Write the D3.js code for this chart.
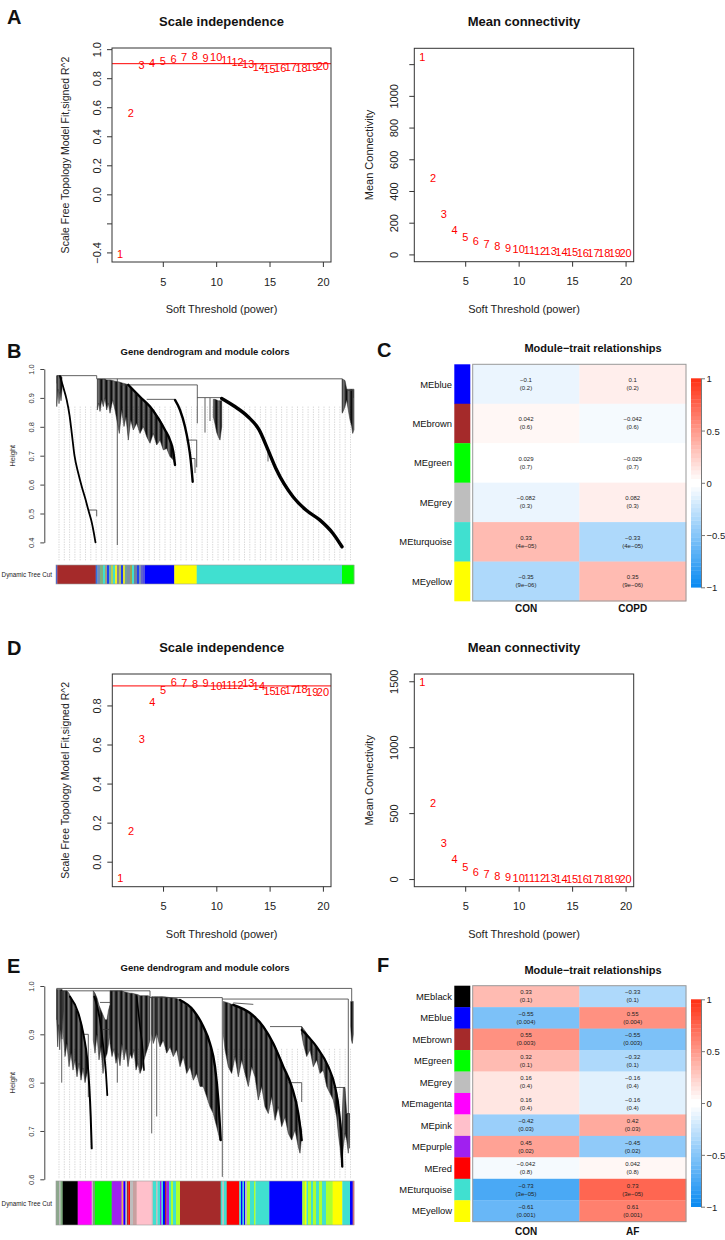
<!DOCTYPE html>
<html><head><meta charset="utf-8">
<script src="https://cdn.jsdelivr.net/npm/d3@7/dist/d3.min.js"></script>
<style>body{margin:0;background:#fff}svg{display:block}text{font-family:"Liberation Sans",Arial,Helvetica,sans-serif}</style>
</head><body>
<svg id="fig" width="725" height="1240"></svg>
<script>
// ---------------- DATA ----------------
const powers = [1,2,3,4,5,6,7,8,9,10,11,12,13,14,15,16,17,18,19,20];
const xTicks = [5,10,15,20];
// Panel A
const aFit  = [-0.41,0.56,0.89,0.903,0.919,0.935,0.947,0.952,0.942,0.945,0.926,0.915,0.897,0.876,0.866,0.871,0.88,0.873,0.878,0.883];
const aConn = [1248,480,253,155,107,82,63,50,40,32,27,23,19,16,14,12,11,9,8,7];
const aFitTicks  = [1.0,0.8,0.6,0.4,0.2,0.0,-0.2,-0.4];
const aFitShown  = ["1.0","0.8","0.6","0.4","0.2","0.0","","−0.4"];
const aConnTicks = [0,200,400,600,800,1000,1200];
const aConnShown = ["0","200","400","600","800","1000",""];
// Panel D
const dFit  = [-0.085,0.159,0.626,0.818,0.878,0.921,0.916,0.912,0.914,0.899,0.905,0.905,0.914,0.899,0.873,0.875,0.877,0.883,0.867,0.870];
const dConn = [1492,579,275,149,93,55,38,25,17,10,7,6,5,4,3,3,2,2,2,1];
const dFitTicks  = [0.0,0.2,0.4,0.6,0.8];
const dFitShown  = ["0.0","0.2","0.4","0.6","0.8"];
const dConnTicks = [0,500,1000,1500];
const dConnShown = ["0","500","1000","1500"];
const r2Cut = 0.9;

// Panel C heatmap
const cModules = ["MEblue","MEbrown","MEgreen","MEgrey","MEturquoise","MEyellow"];
const cColors  = ["#0000FF","#A52A2A","#00FF00","#BEBEBE","#40E0D0","#FFFF00"];
const cTraits  = ["CON","COPD"];
const cCon     = [-0.1,0.042,0.029,-0.082,0.33,-0.35];
const cCopd    = [0.1,-0.042,-0.029,0.082,-0.33,0.35];
const cPCon    = ["0.2","0.6","0.7","0.3","4e−05","9e−06"];
const cPCopd   = ["0.2","0.6","0.7","0.3","4e−05","9e−06"];
// Panel F heatmap
const fModules = ["MEblack","MEblue","MEbrown","MEgreen","MEgrey","MEmagenta","MEpink","MEpurple","MEred","MEturquoise","MEyellow"];
const fColors  = ["#000000","#0000FF","#A52A2A","#00FF00","#BEBEBE","#FF00FF","#FFC0CB","#A020F0","#FF0000","#40E0D0","#FFFF00"];
const fTraits  = ["CON","AF"];
const fCon     = [0.33,-0.55,0.55,0.32,0.16,0.16,-0.42,0.45,-0.042,-0.73,-0.61];
const fAf      = [-0.33,0.55,-0.55,-0.32,-0.16,-0.16,0.42,-0.45,0.042,0.73,0.61];
const fPCon    = ["0.1","0.004","0.003","0.1","0.4","0.4","0.03","0.02","0.8","3e−05","0.001"];
const fPAf     = ["0.1","0.004","0.003","0.1","0.4","0.4","0.03","0.02","0.8","3e−05","0.001"];
const legendTicks = [1,0.5,0,-0.5,-1];

// Panel B dendrogram (leaf position 0..298, height)
const bSegs = [
 [1,0.977,40.7,0.977],[1,0.977,1,0.95],[40.7,0.977,40.7,0.966],[40.7,0.966,286.3,0.966],
 [61.3,0.966,61.3,0.391],[64,0.945,141.3,0.945],[90.7,0.895,119,0.895],
 [141.3,0.945,141.3,0.812],[141.3,0.901,165.7,0.901],[149,0.90,149,0.78],[154,0.90,154,0.82],
 [130.7,0.754,140.7,0.754],[140.7,0.754,140.7,0.66],[134,0.69,139,0.69],[139,0.69,139,0.64],
 [32.3,0.512,40.7,0.512],[40.7,0.512,40.7,0.49],[286.3,0.966,286.3,0.85],
 [290.7,0.926,297.3,0.926],[297.3,0.926,297.3,0.90],[212,0.72,212,0.68]
];
const bMasses = [
 [[0.7,0.977,0.87],[2,0.977,0.93],[3,0.977,0.88],[4,0.977,0.92],[5,0.977,0.89],[6,0.97,0.93]],
 [[41.3,0.965,0.858],[42.7,0.965,0.882],[44,0.965,0.853],[45.7,0.965,0.893],[47.3,0.965,0.870],[49,0.965,0.90],
  [50.7,0.962,0.858],[52.3,0.962,0.882],[54,0.962,0.847],[56.7,0.960,0.893],[59,0.958,0.858],[63.3,0.955,0.777],
  [65.7,0.952,0.858],[68,0.950,0.801],[70,0.948,0.835],[72.3,0.945,0.754],[74.7,0.935,0.824],[77.3,0.925,0.789],
  [80.7,0.912,0.812],[84,0.904,0.777],[87.3,0.89,0.801],[90.7,0.88,0.766],[94,0.87,0.743],[97.3,0.86,0.777],
  [100.7,0.84,0.737],[104,0.825,0.754],[107.3,0.80,0.72],[110.7,0.78,0.725],[114,0.754,0.697],[117.3,0.714,0.685],[119,0.668,0.668]],
 [[157.3,0.895,0.835],[159,0.895,0.81],[160.7,0.893,0.78],[162.3,0.89,0.766],[164,0.89,0.754],[165.7,0.89,0.80]],
 [[286.3,0.965,0.847],[287.7,0.963,0.858],[289,0.96,0.87],[290.7,0.93,0.893],[292.3,0.93,0.858],[294,0.93,0.824],
  [295.7,0.93,0.801],[296.7,0.93,0.777],[298,0.93,0.79]]
];
const bCurves = [
 [[4,0.975],[7,0.94],[10.7,0.893],[13.5,0.84],[15.7,0.78],[18.5,0.70],[22.3,0.639],[26,0.59],[29,0.555],[32.5,0.51],[35.7,0.47],[38,0.43],[39.5,0.40]],
 [[72.3,0.945],[84,0.904],[94,0.870],[102.3,0.829],[109,0.789],[114,0.754],[117.3,0.714],[119,0.668]],
 [[119,0.893],[124,0.858],[129,0.80],[132.3,0.743],[134.7,0.685],[136.7,0.61]],
 [[165.7,0.898],[178,0.872],[192,0.835],[203,0.79],[212,0.72],[220,0.655],[228,0.603],[237,0.558],[250,0.512],[264,0.477],[277,0.431],[286,0.385]]
];
const bColorSegs = [
 [0,1.3,"#3355DD"],[1.3,39.7,"#A52A2A"],[39.7,41.5,"#3070E0"],[41.5,44,"#7090B0"],[44,47,"#80B080"],
 [47,49,"#40E0D0"],[49,51,"#A0A080"],[51,53,"#2040F0"],[53,55,"#70B0B0"],[55,57,"#B8D050"],[57,59,"#40E0D0"],
 [59,61,"#F0F020"],[61,63,"#8080A0"],[63,65,"#B0C060"],[65,67,"#2040F0"],[67,69,"#E0E030"],[69,71,"#70A0A0"],
 [71,74,"#8090A0"],[74,76,"#A0A050"],[76,78,"#40E0D0"],[78,81,"#7080A0"],[81,83,"#2040F0"],[83,85,"#8090B0"],
 [85,87,"#6060D0"],[87,89,"#5050E0"],[89,118.3,"#0000FF"],[118.3,140.7,"#FFFF00"],[140.7,286,"#40E0D0"],[286,298,"#00FF00"]
];

// Panel E dendrogram
const eSegs = [
 [0.7,0.995,295.7,0.995],[0.7,0.995,0.7,0.93],[295.7,0.995,295.7,0.968],[7.3,0.99,94,0.99],[94,0.99,94,0.976],
 [94,0.976,166.3,0.976],[166.3,0.973,292.3,0.973],[166.3,0.976,166.3,0.605],[100.7,0.976,100.7,0.73],
 [95.7,0.976,95.7,0.695],[61.3,0.99,61.3,0.80],[214,0.916,245.7,0.916],[245.7,0.916,245.7,0.90],
 [230.7,0.80,245.7,0.80],[245.7,0.80,245.7,0.76],[292.3,0.973,292.3,0.736],[277.3,0.79,289,0.79],
 [289,0.736,293.5,0.736],[293.5,0.736,293.5,0.664],[27.3,0.90,32.3,0.90],[32.3,0.90,32.3,0.77],
 [44,0.966,54,0.966],[44,0.91,54,0.91],[177.3,0.965,197.3,0.962],[5.7,0.99,5.7,0.80]
];
const eMasses = [
 [[0.7,0.993,0.93],[1.7,0.993,0.874],[2.7,0.993,0.92],[3.7,0.993,0.868],[4.7,0.993,0.91],[6,0.993,0.89],[7.3,0.99,0.95]],
 [[7.3,0.99,0.902],[9,0.99,0.854],[11,0.99,0.881],[13,0.985,0.833],[15,0.975,0.861],[17,0.965,0.826],[19,0.955,0.847],
  [21,0.948,0.812],[23,0.94,0.84],[25,0.925,0.805],[27,0.905,0.83],[29,0.88,0.80],[31,0.85,0.82]],
 [[37.3,0.99,0.888],[39,0.985,0.861],[41,0.975,0.90],[43,0.96,0.847],[45,0.95,0.874],[47,0.94,0.819],[49,0.93,0.85],
  [51,0.93,0.86],[52.5,0.95,0.88],[54,0.96,0.90]],
 [[54,0.99,0.881],[56,0.99,0.854],[58,0.99,0.87],[60,0.99,0.84],[62,0.99,0.86],[64,0.99,0.835],[66,0.99,0.88],
  [68,0.988,0.847],[70,0.987,0.87],[72,0.986,0.833],[74,0.985,0.86],[76,0.985,0.85],[78,0.984,0.868],[80,0.983,0.826],
  [82,0.982,0.84],[84,0.98,0.819],[86,0.98,0.83],[88,0.98,0.847],[90,0.98,0.861],[92,0.98,0.874],[94,0.978,0.888]],
 [[95.7,0.978,0.90],[97.3,0.978,0.881],[100.7,0.978,0.902],[104,0.978,0.874],[107.3,0.978,0.888],[110.7,0.977,0.861],
  [114,0.976,0.874],[117.3,0.975,0.854],[120.7,0.974,0.868],[124,0.971,0.833],[127.3,0.966,0.854],[130.7,0.960,0.819],
  [134,0.955,0.833],[137.3,0.95,0.805],[140.7,0.94,0.819],[144,0.928,0.792],[147.3,0.916,0.792],[150.7,0.90,0.771],
  [154,0.881,0.75],[157.3,0.855,0.736],[160.7,0.80,0.709],[164,0.70,0.681]],
 [[167.3,0.968,0.90],[169,0.967,0.868],[172.3,0.965,0.833],[175.7,0.962,0.819],[179,0.96,0.854],[182.3,0.957,0.812],
  [185.7,0.953,0.847],[189,0.95,0.819],[192.3,0.946,0.792],[195.7,0.941,0.833],[199,0.935,0.812],[202.3,0.928,0.764],
  [205.7,0.92,0.792],[209,0.912,0.75],[212.3,0.90,0.736],[215.7,0.888,0.771],[219,0.875,0.722],[222.3,0.86,0.75],
  [225.7,0.843,0.709],[229,0.825,0.729],[232.3,0.808,0.695],[235.7,0.792,0.681],[239,0.765,0.702],[242.3,0.736,0.667],
  [244,0.72,0.654],[245.7,0.70,0.69]],
 [[245.7,0.916,0.90],[247.3,0.912,0.881],[250.7,0.902,0.854],[254,0.893,0.868],[257.3,0.883,0.833],[260.7,0.874,0.847],
  [264,0.864,0.819],[267.3,0.853,0.826],[270.7,0.84,0.792],[274,0.823,0.778],[277.3,0.805,0.764],[280.7,0.78,0.729],
  [282.3,0.76,0.695],[284,0.725,0.667],[285.7,0.70,0.626],[287.3,0.79,0.667],[289,0.79,0.695],[290.7,0.736,0.681],
  [292.3,0.736,0.654],[293.3,0.736,0.695]],
 [[294.7,0.968,0.916],[295.5,0.968,0.888],[296.3,0.968,0.881],[297.3,0.968,0.90]]
];
const eCurves = [
 [[14,0.978],[22.3,0.944],[27.3,0.902],[31.3,0.847],[33.3,0.792],[34.7,0.73],[35.7,0.664]],
 [[38.3,0.978],[44,0.929],[47.3,0.874],[50,0.819],[51.3,0.774]],
 [[80.7,0.978],[84,0.916],[86.7,0.868],[88,0.826]],
 [[124,0.971],[137.3,0.95],[147.3,0.916],[154,0.881],[159,0.833],[162.3,0.764],[164.7,0.681]],
 [[177.3,0.961],[194,0.944],[207.3,0.916],[217.3,0.881],[227.3,0.833],[235.7,0.792],[242.3,0.736],[245.7,0.681]],
 [[245.7,0.909],[260.7,0.874],[272.3,0.833],[279,0.792],[283.3,0.736],[285.7,0.667],[286.3,0.626]]
];
const GY="#ADFF2F", TQ="#40E0D0";
const eColorSegs = [
 [0,3,"#8DA88D"],[3,4.5,"#BEBEBE"],[4.5,6.7,"#7CAA7C"],[6.7,21.7,"#000000"],[21.7,35.7,"#FF00FF"],[35.7,37,"#BEBEBE"],
 [37,39,"#6FA86F"],[39,55.7,"#00FF00"],[55.7,65.7,"#A020F0"],[65.7,66.7,"#FFFF00"],[66.7,68,"#A020F0"],[68,69.5,"#0000FF"],
 [69.5,71,"#BEBEBE"],[71,72.5,"#A52A2A"],[72.5,74,"#FF0000"],[74,77,"#BEBEBE"],[77,80.7,"#C8A0A0"],[80.7,95.7,"#FFC0CB"],
 [95.7,97,"#BEBEBE"],[97,100,TQ],[100,101.5,"#BEBEBE"],[101.5,104,TQ],[104,105.5,"#A020F0"],[105.5,107,TQ],[107,109,"#0000FF"],
 [109,110.5,"#A52A2A"],[110.5,113,"#A020F0"],[113,115,TQ],[115,117,GY],[117,120,TQ],[120,124,GY],[124,164.7,"#A52A2A"],
 [164.7,166.5,TQ],[166.5,168,"#BEBEBE"],[168,170.7,TQ],[170.7,183.3,"#FF0000"],[183.3,185,TQ],[185,186.5,"#0000FF"],
 [186.5,188,TQ],[188,189,"#0000FF"],[189,191,"#BEBEBE"],[191,194,GY],[194,198,TQ],[198,199.5,GY],[199.5,213.3,TQ],
 [213.3,246.3,"#0000FF"],[246.3,249,GY],[249,250.5,"#FFFF00"],[250.5,252,TQ],[252,255,GY],[255,257,TQ],[257,260,GY],
 [260,263,TQ],[263,266,GY],[266,270,TQ],[270,276.7,GY],[276.7,286.3,"#FFFF00"],[286.3,294,TQ],[294,296.7,"#0000FF"],[296.7,298,"#E06070"]
];
const bHeightTicks = [1.0,0.9,0.8,0.7,0.6,0.5,0.4];
const eHeightTicks = [1.0,0.9,0.8,0.7,0.6];

// ---------------- DRAWING ----------------
const svg = d3.select("#fig");
const defs = svg.append("defs");
const pat = defs.append("pattern").attr("id","hair").attr("patternUnits","userSpaceOnUse").attr("width",1.25).attr("height",10);
pat.append("rect").attr("x",0).attr("y",0).attr("width",0.95).attr("height",10).attr("fill","#000");

function txt(x,y,s,size,o={}){
  const t = svg.append("text").attr("x",x).attr("y",y).attr("font-size",size)
    .attr("text-anchor",o.anchor||"middle").attr("dominant-baseline",o.base||"central")
    .attr("font-weight",o.bold?"bold":"normal").attr("fill",o.fill||"#111").text(s);
  if(o.rot) t.attr("transform",`rotate(-90,${x},${y})`);
  return t;
}
function cleanAxis(a){ a.attr("font-size",null).attr("font-family",null); }

function scatter(c){
  const g = svg.append("g");
  const [x0,x1,y0,y1] = c.box;
  const x = d3.scaleLinear([0.24,20.76],[x0,x1]);
  const y = d3.scaleLinear(c.yDomain,[y1,y0]);
  if(c.hline!=null) g.append("line").attr("x1",x0).attr("x2",x1).attr("y1",y(c.hline)).attr("y2",y(c.hline))
     .attr("stroke","#f00").attr("stroke-width",1);
  g.selectAll("text.pt").data(powers).join("text").attr("class","pt")
    .attr("x",d=>x(d)).attr("y",(d,i)=>y(c.vals[i])).attr("text-anchor","middle").attr("dominant-baseline","central")
    .attr("font-size",11).attr("fill","#f00").text(d=>d);
  g.append("rect").attr("x",x0).attr("y",y0).attr("width",x1-x0).attr("height",y1-y0)
    .attr("fill","none").attr("stroke","#333").attr("stroke-width",1);
  const ax = g.append("g").attr("transform",`translate(0,${y1})`)
    .call(d3.axisBottom(x).tickValues(xTicks).tickSize(5).tickSizeOuter(0));
  cleanAxis(ax); ax.select(".domain").remove();
  ax.selectAll(".tick line").attr("stroke","#333");
  ax.selectAll(".tick text").attr("y",19.5).attr("dy",null).attr("dominant-baseline","central")
    .attr("font-size",11).attr("fill","#222");
  const ay = g.append("g").attr("transform",`translate(${x0},0)`)
    .call(d3.axisLeft(y).tickValues(c.yTicks).tickSize(5).tickSizeOuter(0).tickFormat((d,i)=>c.yShown[i]));
  cleanAxis(ay); ay.select(".domain").remove();
  ay.selectAll(".tick line").attr("stroke","#333");
  ay.selectAll(".tick text").attr("x",0).attr("y",-c.labOff).attr("dy",null).attr("transform","rotate(-90)")
    .attr("text-anchor","middle").attr("dominant-baseline","central").attr("font-size",11).attr("fill","#222");
  txt((x0+x1)/2, c.titleY, c.title, 13, {bold:true});
  txt((x0+x1)/2, y1+47, "Soft Threshold (power)", 11, {fill:"#222"});
  txt(c.ylabX, (y0+y1)/2, c.ylab, c.ylabSize, {rot:true, fill:"#222"});
}

function dendro(c){
  const g = svg.append("g");
  const x = d3.scaleLinear([0,298],[56,354]);
  const y = d3.scaleLinear(c.hDomain, c.yRange);
  const leaves = d3.range(3, 297, 5.3);
  g.selectAll("line.leaf").data(leaves).join("line")
    .attr("x1",d=>x(d)).attr("x2",d=>x(d)).attr("y1",y(c.ceiling)).attr("y2",c.leafBottom)
    .attr("stroke","#c4c4c4").attr("stroke-width",0.7).attr("stroke-dasharray","1.3,1.2");
  const ln = d3.line();
  c.masses.forEach(m=>{
    const pts = m.map(d=>[x(d[0]),y(d[1])]).concat(m.slice().reverse().map(d=>[x(d[0]),y(d[2])]));
    g.append("path").attr("d",ln(pts)+"Z").attr("fill","url(#hair)").attr("stroke","#222").attr("stroke-width",0.5);
  });
  g.selectAll("line.seg").data(c.segs).join("line")
    .attr("x1",d=>x(d[0])).attr("y1",d=>y(d[1])).attr("x2",d=>x(d[2])).attr("y2",d=>y(d[3]))
    .attr("stroke","#3a3a3a").attr("stroke-width",0.8);
  const cl = d3.line().x(d=>x(d[0])).y(d=>y(d[1])).curve(d3.curveMonotoneX);
  c.curves.forEach((cv,i)=> g.append("path").attr("d",cl(cv)).attr("fill","none").attr("stroke","#000")
    .attr("stroke-width",c.curveW[i]).attr("stroke-linecap","round").attr("stroke-linejoin","round"));
  const ay = g.append("g").attr("transform","translate(44.3,0)")
    .call(d3.axisLeft(y).tickValues(c.ticks).tickSize(4).tickSizeOuter(0).tickFormat(d3.format(".1f")));
  cleanAxis(ay);
  ay.select(".domain").attr("stroke","#444");
  ay.selectAll(".tick line").attr("stroke","#444");
  ay.selectAll(".tick text").attr("x",0).attr("y",-12.6).attr("dy",null).attr("transform","rotate(-90)")
    .attr("text-anchor","middle").attr("dominant-baseline","central").attr("font-size",7.5).attr("fill","#333");
  txt(12.3, (c.yRange[0]+c.yRange[1])/2, "Height", 7.5, {rot:true, fill:"#333"});
  g.selectAll("rect.cb").data(c.colors).join("rect")
    .attr("x",d=>x(d[0])).attr("width",d=>x(d[1])-x(d[0])+0.25).attr("y",c.bar[0]).attr("height",c.bar[1]-c.bar[0])
    .attr("fill",d=>d[2]);
  g.append("rect").attr("x",x(0)).attr("y",c.bar[0]).attr("width",x(298)-x(0)).attr("height",c.bar[1]-c.bar[0])
    .attr("fill","none").attr("stroke","#999").attr("stroke-width",0.6);
  txt(52, (c.bar[0]+c.bar[1])/2, "Dynamic Tree Cut", 6.3, {anchor:"end", fill:"#222"});
  txt(205, c.titleY, "Gene dendrogram and module colors", 9.5, {bold:true});
}

// blueWhiteRed(50) as in WGCNA
const blueEnd=[13,140,242], redEnd=[255,51,23];
const bwr = d3.range(50).map(i=>{
  let f, e;
  if(i<25){ f=i/24; e=blueEnd; } else { f=(49-i)/24; e=redEnd; }
  return d3.rgb(e[0]+(255-e[0])*f, e[1]+(255-e[1])*f, e[2]+(255-e[2])*f).formatHex();
});
function zcol(v){ return bwr[Math.max(0,Math.min(49,Math.floor((v+1)/0.04)))]; }
const fmtNum = v => String(v).replace("-","−");

function heatmap(c){
  const g = svg.append("g");
  const col = d3.scaleBand(c.traits,[472.7,686]);
  const row = d3.scaleBand(c.modules,[c.rows[0],c.rows[1]]);
  const cells = [];
  c.modules.forEach((m,i)=>{
    cells.push({m, t:c.traits[0], v:c.v1[i], p:c.p1[i]});
    cells.push({m, t:c.traits[1], v:c.v2[i], p:c.p2[i]});
  });
  g.selectAll("rect.cell").data(cells).join("rect")
    .attr("x",d=>col(d.t)).attr("y",d=>row(d.m)).attr("width",col.bandwidth()+0.3).attr("height",row.bandwidth()+0.3)
    .attr("fill",d=>zcol(d.v));
  g.selectAll("text.v").data(cells).join("text")
    .attr("x",d=>col(d.t)+col.bandwidth()/2).attr("y",d=>row(d.m)+row.bandwidth()/2-4)
    .attr("text-anchor","middle").attr("dominant-baseline","central").attr("font-size",6).attr("fill","#222").text(d=>fmtNum(d.v));
  g.selectAll("text.p").data(cells).join("text")
    .attr("x",d=>col(d.t)+col.bandwidth()/2).attr("y",d=>row(d.m)+row.bandwidth()/2+4)
    .attr("text-anchor","middle").attr("dominant-baseline","central").attr("font-size",6).attr("fill","#222").text(d=>"("+d.p+")");
  g.append("rect").attr("x",472.7).attr("y",c.rows[0]).attr("width",686-472.7).attr("height",c.rows[1]-c.rows[0])
    .attr("fill","none").attr("stroke","#999").attr("stroke-width",1);
  g.selectAll("rect.mc").data(c.modules).join("rect")
    .attr("x",454.3).attr("y",d=>row(d)).attr("width",16).attr("height",row.bandwidth()+0.3)
    .attr("fill",(d,i)=>c.colors[i]);
  g.selectAll("text.rl").data(c.modules).join("text")
    .attr("x",452).attr("y",d=>row(d)+row.bandwidth()/2).attr("text-anchor","end").attr("dominant-baseline","central")
    .attr("font-size",9.4).attr("fill","#111").text(d=>d);
  g.selectAll("text.cl").data(c.traits).join("text")
    .attr("x",d=>col(d)+col.bandwidth()/2).attr("y",c.xlabY).attr("text-anchor","middle").attr("dominant-baseline","central")
    .attr("font-size",10).attr("font-weight","bold").attr("fill","#111").text(d=>d);
  txt(593, c.titleY, "Module−trait relationships", 11, {bold:true});
  // legend
  const ly = d3.scaleLinear([-1,1],[c.leg[1],c.leg[0]]);
  const bins = d3.range(50);
  g.selectAll("rect.lg").data(bins).join("rect")
    .attr("x",691).attr("width",10).attr("y",i=>ly(-1+(i+1)*0.04)).attr("height",i=>ly(-1+i*0.04)-ly(-1+(i+1)*0.04)+0.3)
    .attr("fill",i=>bwr[i]);
  const la = g.append("g").attr("transform","translate(701,0)")
    .call(d3.axisRight(ly).tickValues(legendTicks).tickSize(4).tickSizeOuter(0).tickPadding(1.5).tickFormat(fmtNum));
  cleanAxis(la);
  la.select(".domain").attr("stroke","#777");
  la.selectAll(".tick line").attr("stroke","#777");
  la.selectAll(".tick text").attr("font-size",9.5).attr("fill","#222").attr("dy",null).attr("dominant-baseline","central");
}

// Panel letters
[["A",7,24],["B",7,358],["C",377,357],["D",7,655],["E",7,973],["F",377,972]].forEach(d=>
  txt(d[1],d[2],d[0],20,{bold:true,anchor:"start",base:"auto"}));

scatter({box:[112,331,48,262], yDomain:[-0.466,1.008], vals:aFit, yTicks:aFitTicks, yShown:aFitShown, labOff:15.5,
  hline:r2Cut, title:"Scale independence", titleY:21.7, ylab:"Scale Free Topology Model Fit,signed R^2", ylabX:65, ylabSize:10.5});
scatter({box:[414.3,633.7,48.3,261.7], yDomain:[-46,1300], vals:aConn, yTicks:aConnTicks, yShown:aConnShown, labOff:20,
  hline:null, title:"Mean connectivity", titleY:21.7, ylab:"Mean Connectivity", ylabX:369, ylabSize:11});
scatter({box:[112.3,331,674,886.7], yDomain:[-0.128,0.961], vals:dFit, yTicks:dFitTicks, yShown:dFitShown, labOff:15.5,
  hline:r2Cut, title:"Scale independence", titleY:647.3, ylab:"Scale Free Topology Model Fit,signed R^2", ylabX:65, ylabSize:10.5});
scatter({box:[414.3,633.7,674,886.7], yDomain:[-58,1555], vals:dConn, yTicks:dConnTicks, yShown:dConnShown, labOff:20,
  hline:null, title:"Mean connectivity", titleY:647.3, ylab:"Mean Connectivity", ylabX:369, ylabSize:11});

dendro({hDomain:[1,0.4], yRange:[369,542.4], ceiling:0.87, leafBottom:561, bar:[565,584], ticks:bHeightTicks,
  masses:bMasses, segs:bSegs, curves:bCurves, curveW:[1.8,2.4,2.4,3.4], colors:bColorSegs, titleY:351.7});
dendro({hDomain:[1,0.6], yRange:[986,1179.3], ceiling:0.87, leafBottom:1179, bar:[1181,1225], ticks:eHeightTicks,
  masses:eMasses, segs:eSegs, curves:eCurves, curveW:[2,1.8,1.6,2.4,2.4,2.2], colors:eColorSegs, titleY:967.7});

heatmap({modules:cModules, colors:cColors, traits:cTraits, v1:cCon, v2:cCopd, p1:cPCon, p2:cPCopd,
  rows:[364.3,601], leg:[378.3,587.3], xlabY:608.5, titleY:348.3});
heatmap({modules:fModules, colors:fColors, traits:fTraits, v1:fCon, v2:fAf, p1:fPCon, p2:fPAf,
  rows:[985.7,1221.7], leg:[999.3,1206.7], xlabY:1231.7, titleY:970});
</script>
</body></html>
